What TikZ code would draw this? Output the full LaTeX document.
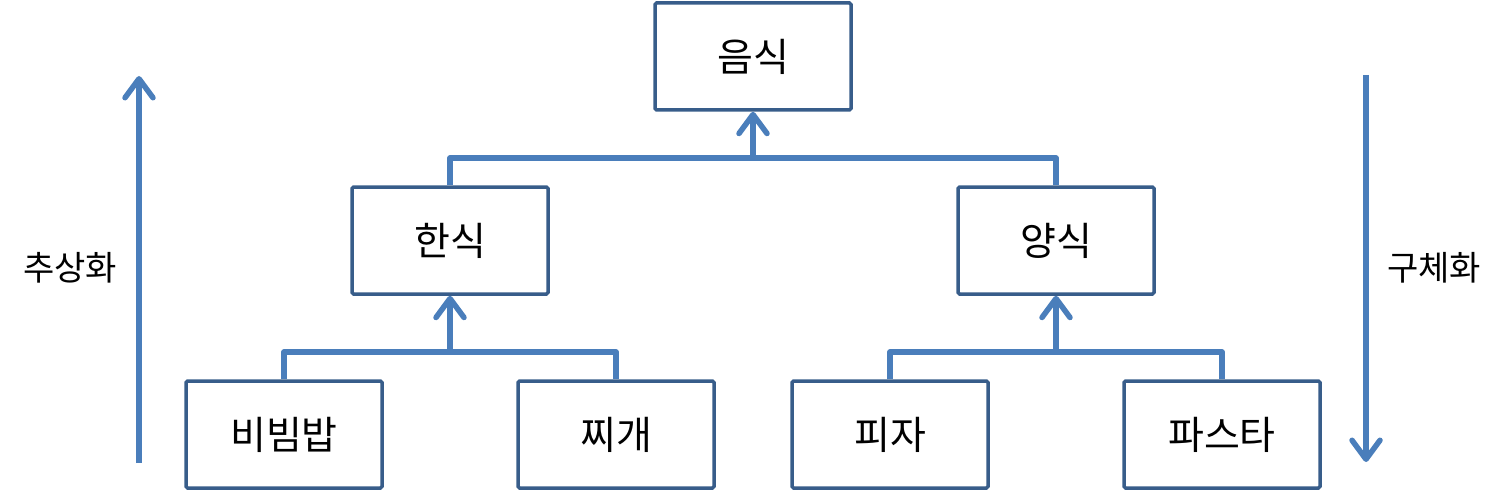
\documentclass[tikz,border=0pt]{standalone}
\usepackage{fontspec}
\setmainfont{Noto Sans CJK KR}
\usetikzlibrary{arrows.meta}
\definecolor{linkblue}{HTML}{4A7EBB}
\definecolor{boxblue}{HTML}{385D8A}
\begin{document}
\begin{tikzpicture}[x=1pt,y=-1pt,
  catbox/.style={draw=boxblue,line width=3.5pt,rounded corners=1.5pt,minimum width=196pt,minimum height=107pt,inner sep=0pt,font=\fontsize{39}{39}\selectfont,fill=white},
  link/.style={draw=linkblue,line width=5.5pt,line join=round},
  uparr/.style={link,-{Straight Barb[length=19pt,width=28pt,round,line width=5.5pt]}},
  sidelbl/.style={font=\fontsize{34}{34}\selectfont}]
\useasboundingbox (0,0) rectangle (1505,492);
\node[catbox] (food) at (753,56.5) {음식};
\node[catbox] (kor) at (450,240.5) {한식};
\node[catbox] (west) at (1056,240.5) {양식};
\node[catbox] (bib) at (284,434.5) {비빔밥};
\node[catbox] (jji) at (616,434.5) {찌개};
\node[catbox] (piz) at (890,434.5) {피자};
\node[catbox] (pas) at (1222,434.5) {파스타};
\coordinate (jtop) at (753,158);
\coordinate (kj) at (450,352);
\coordinate (wj) at (1056,352);
\draw[link] (kor.north) -- (450,158) -- (1056,158) -- (west.north);
\draw[uparr] (jtop) -- (food.south);
\draw[link] (bib.north) -- (284,352) -- (616,352) -- (jji.north);
\draw[uparr] (kj) -- (kor.south);
\draw[link] (piz.north) -- (890,352) -- (1222,352) -- (pas.north);
\draw[uparr] (wj) -- (west.south);
\coordinate (lb) at (139,463);
\coordinate (lt) at (139,76);
\coordinate (rt) at (1366,75);
\coordinate (rb) at (1366,462);
\draw[uparr] (lb) -- (lt);
\draw[uparr] (rt) -- (rb);
\node[sidelbl] (abs) at (70,268) {추상화};
\node[sidelbl] (con) at (1434,268) {구체화};
\end{tikzpicture}
\end{document}
